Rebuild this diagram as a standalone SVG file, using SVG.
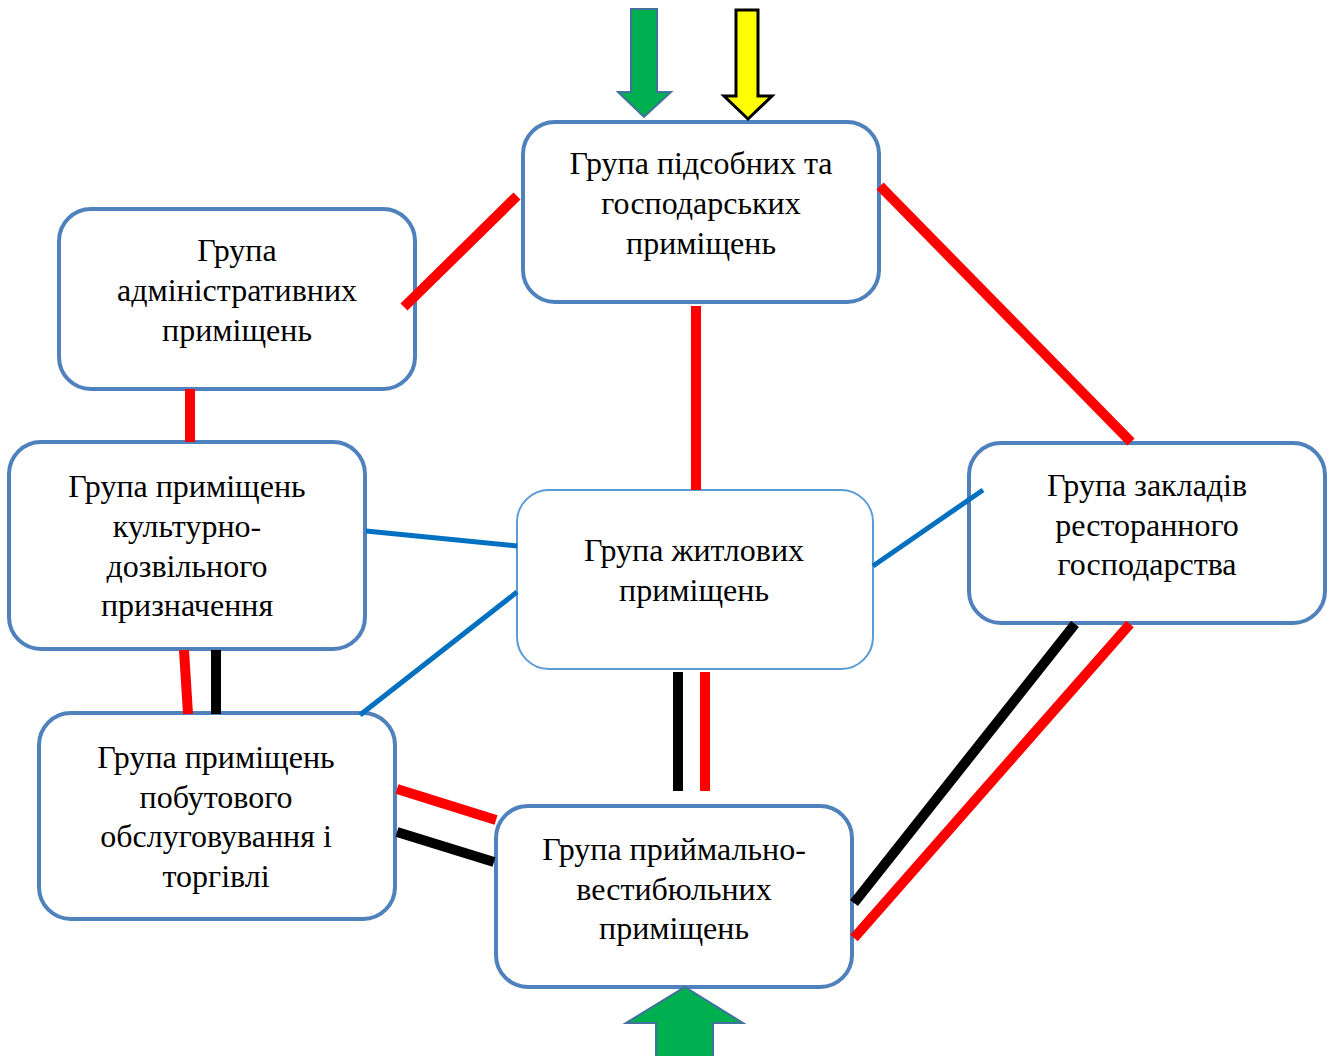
<svg xmlns="http://www.w3.org/2000/svg" width="1330" height="1056" viewBox="0 0 1330 1056">
<style>
.box{fill:#fff;stroke:#4f81bd;stroke-width:4}
.box2{fill:#fff;stroke:#5b9bd5;stroke-width:2}
text{font-family:"Liberation Serif","Times New Roman",serif;font-size:32px;fill:#000;text-anchor:middle}
.r{stroke:#ff0000;stroke-width:10;fill:none}
.k{stroke:#000;stroke-width:10;fill:none}
.b{stroke:#0070c0;stroke-width:5;fill:none}
</style>
<rect width="1330" height="1056" fill="#fff"/>
<g id="n1"><rect class="box" x="523" y="122" width="356" height="180" rx="32"/>
<text x="701" y="174">Група підсобних та</text><text x="701" y="214">господарських</text><text x="701" y="254">приміщень</text></g>
<g id="n2"><rect class="box" x="59" y="209" width="356" height="180" rx="32"/>
<text x="237" y="261">Група</text><text x="237" y="301">адміністративних</text><text x="237" y="341">приміщень</text></g>
<g id="n3"><rect class="box" x="9" y="442" width="356" height="207" rx="32"/>
<text x="187" y="497">Група приміщень</text><text x="187" y="537">культурно-</text><text x="187" y="577">дозвільного</text><text x="187" y="616">призначення</text></g>
<g id="n4"><rect class="box2" x="517" y="490" width="356" height="179" rx="32"/>
<text x="694" y="561">Група житлових</text><text x="694" y="601">приміщень</text></g>
<g id="n5"><rect class="box" x="969" y="443" width="356" height="180" rx="32"/>
<text x="1147" y="496">Група закладів</text><text x="1147" y="536">ресторанного</text><text x="1147" y="575">господарства</text></g>
<g id="n6"><rect class="box" x="39" y="713" width="356" height="206" rx="32"/>
<text x="216" y="768">Група приміщень</text><text x="216" y="808">побутового</text><text x="216" y="847">обслуговування і</text><text x="216" y="887">торгівлі</text></g>
<g id="n7"><rect class="box" x="496" y="806" width="356" height="181" rx="32"/>
<text x="674" y="860">Група приймально-</text><text x="674" y="900">вестибюльних</text><text x="674" y="939">приміщень</text></g>
<g id="connectors">
<line class="r" x1="517" y1="196" x2="404" y2="307"/>
<line class="r" x1="696" y1="306" x2="696" y2="490"/>
<line class="r" x1="880" y1="186" x2="1131" y2="442"/>
<line class="r" x1="190" y1="389" x2="190" y2="442"/>
<line class="b" x1="366" y1="531" x2="517" y2="546"/>
<line class="b" x1="517" y1="592" x2="360" y2="715"/>
<line class="b" x1="873" y1="566" x2="983" y2="490"/>
<line class="r" x1="184" y1="650" x2="188" y2="714" stroke-width="8"/>
<line class="k" x1="216" y1="650" x2="216" y2="714" stroke-width="8"/>
<line class="k" x1="678" y1="672" x2="678" y2="791"/>
<line class="r" x1="705" y1="672" x2="705" y2="791"/>
<line class="r" x1="397" y1="789" x2="496" y2="820" stroke-width="9"/>
<line class="k" x1="397" y1="832" x2="494" y2="862" stroke-width="9"/>
<line class="k" x1="1075" y1="624" x2="854" y2="903"/>
<line class="r" x1="1130" y1="624" x2="854" y2="938"/>
</g>
<g id="arrows">
<polygon points="631,9 657,9 657,92 671,92 644,117 618,92 631,92" fill="#00b050" stroke="#41719c" stroke-width="2"/>
<polygon points="736,10 758,10 758,96 772,96 748,119 724,96 736,96" fill="#ffff00" stroke="#000" stroke-width="3"/>
<polygon points="685,987 743,1023 713,1023 713,1060 656,1060 656,1023 626,1023" fill="#00b050" stroke="#41719c" stroke-width="2"/>
</g>
</svg>
